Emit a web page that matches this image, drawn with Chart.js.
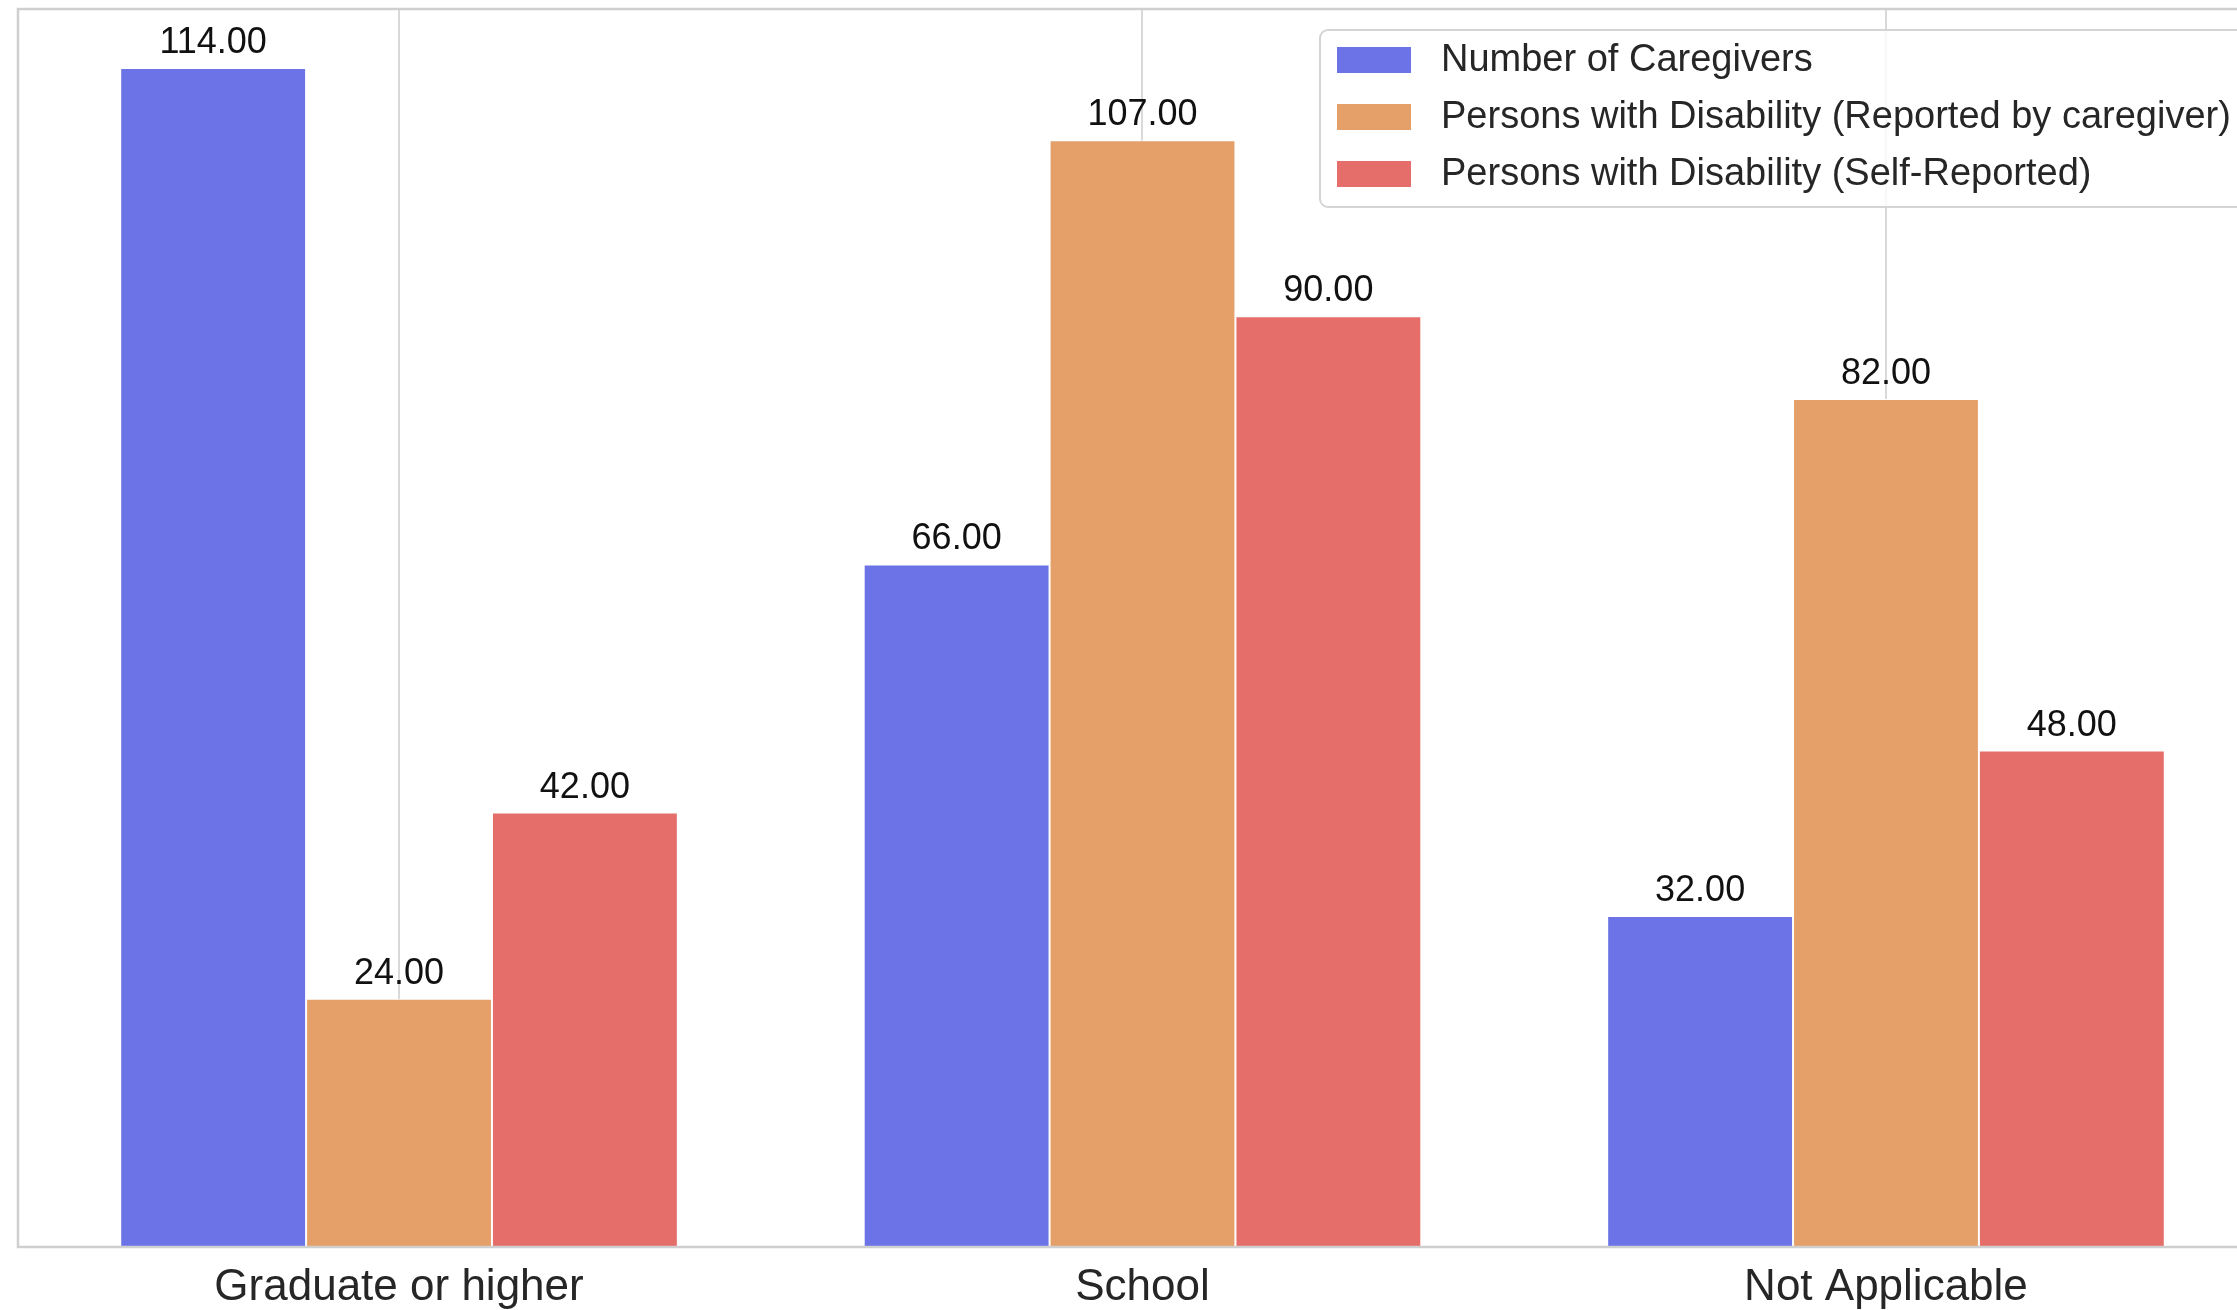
<!DOCTYPE html>
<html>
<head>
<meta charset="utf-8">
<title>Education level</title>
<script src="https://cdn.jsdelivr.net/npm/chart.js@4"></script>
<style>
  html, body { margin: 0; padding: 0; overflow: hidden; background: #fff; }
  #wrap { position: absolute; left: 0; top: 0; width: 2290px; height: 1310px; }
</style>
</head>
<body>
<div id="wrap"><canvas id="chart" width="2290" height="1310"></canvas></div>
<script>
const categories = ['Graduate or higher', 'School', 'Not Applicable']
const caregivers = [114, 66, 32]
const reportedByCaregiver = [24, 107, 82]
const selfReported = [42, 90, 48]

const seriesNames = [
  'Number of Caregivers',
  'Persons with Disability (Reported by caregiver)',
  'Persons with Disability (Self-Reported)',
]
const seriesValues = [caregivers, reportedByCaregiver, selfReported]
const seriesColors = ['#6b73e6', '#e5a06a', '#e56e6b']

const FONT = '"Liberation Sans", Arial, Helvetica, sans-serif'
const SPINE = '#cfcfcf'

/** Light grey frame on the plot area (right side runs off the canvas). */
const frame = {
  id: 'frame',
  afterDatasetsDraw(chart) {
    const {ctx, chartArea: a} = chart
    ctx.save()
    ctx.strokeStyle = SPINE
    ctx.lineWidth = 2.5
    ctx.strokeRect(a.left, a.top, a.right - a.left, a.bottom - a.top)
    ctx.restore()
  },
}

/** Value printed above every bar, two decimals. */
const valueLabels = {
  id: 'valueLabels',
  afterDatasetsDraw(chart) {
    const ctx = chart.ctx
    ctx.save()
    ctx.font = `36px ${FONT}`
    ctx.fillStyle = '#111'
    ctx.textAlign = 'center'
    ctx.textBaseline = 'alphabetic'
    chart.data.datasets.forEach((ds, i) => {
      chart.getDatasetMeta(i).data.forEach((bar, j) => {
        ctx.fillText(ds.data[j].y.toFixed(2), bar.x, bar.y - 15)
      })
    })
    ctx.restore()
  },
}

/** Legend box floating in the upper right corner of the plot. */
const cornerLegend = {
  id: 'cornerLegend',
  afterDraw(chart) {
    const ctx = chart.ctx
    const left = 1320
    const top = 30
    const pad = 17
    const patchW = 74
    const patchH = 26
    const textX = left + pad + patchW + 30
    ctx.save()
    ctx.font = `38px ${FONT}`
    const widest = Math.max(...chart.data.datasets.map(ds => ctx.measureText(ds.label).width))
    const w = textX + widest + pad - left
    const h = 177

    ctx.beginPath()
    ctx.roundRect(left, top, w, h, 8)
    ctx.fillStyle = 'rgba(255,255,255,0.8)'
    ctx.fill()
    ctx.strokeStyle = '#d4d4d4'
    ctx.lineWidth = 2
    ctx.stroke()

    ctx.textAlign = 'left'
    ctx.textBaseline = 'middle'
    chart.data.datasets.forEach((ds, i) => {
      const y = top + 30 + i * 57
      ctx.fillStyle = ds.backgroundColor
      ctx.fillRect(left + pad, y - patchH / 2, patchW, patchH)
      ctx.fillStyle = '#262626'
      ctx.fillText(ds.label, textX, y + 1)
    })
    ctx.restore()
  },
}

const datasets = seriesNames.map((label, i) => ({
  label,
  data: seriesValues[i].map((v, j) => ({x: j, y: v})),
  backgroundColor: seriesColors[i],
  borderColor: '#ffffff',
  borderWidth: 1,
  categoryPercentage: 0.75,
  barPercentage: 1.0,
}))

new Chart('chart', {
  type: 'bar',
  data: {datasets},
  plugins: [frame, valueLabels, cornerLegend],
  options: {
    responsive: false,
    animation: false,
    devicePixelRatio: 1,
    layout: {padding: {left: 18, top: 9, right: 23, bottom: 0}},
    plugins: {
      legend: {display: false},
      tooltip: {enabled: false},
    },
    scales: {
      x: {
        type: 'linear',
        offset: false,
        min: -0.5125,
        max: 2.5125,
        afterBuildTicks: scale => {
          scale.ticks = categories.map((_, i) => ({value: i}))
        },
        afterFit: scale => {
          scale.height = 63
        },
        grid: {color: '#d9d9d9', lineWidth: 2, drawTicks: false, offset: false},
        border: {display: false},
        ticks: {
          callback: value => categories[value],
          autoSkip: false,
          maxRotation: 0,
          padding: 14,
          color: '#262626',
          font: {family: FONT, size: 44},
        },
      },
      y: {
        display: false,
        min: 0,
        max: 119.7,
      },
    },
  },
})
</script>
</body>
</html>
